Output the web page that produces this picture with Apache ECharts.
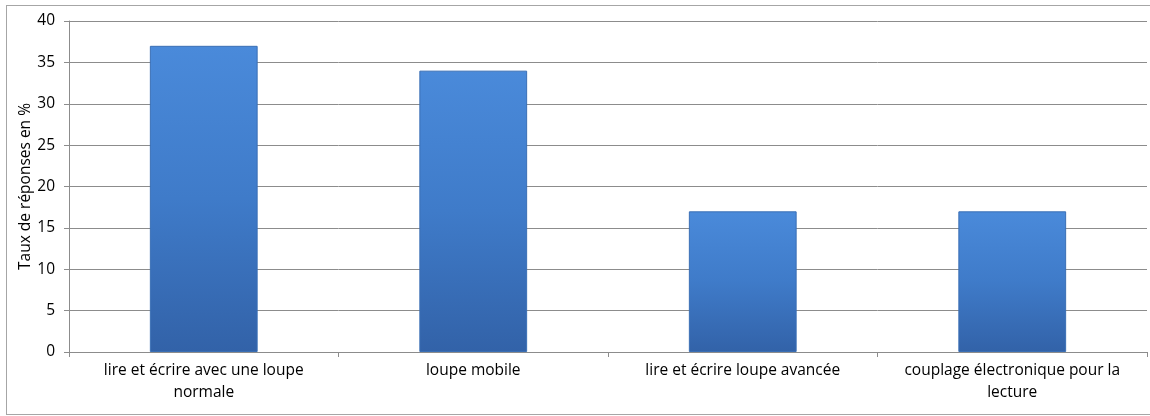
<!DOCTYPE html>
<html>
<head>
<meta charset="utf-8">
<script src="https://cdn.jsdelivr.net/npm/echarts@6/dist/echarts.min.js"></script>
<style>
html,body{margin:0;padding:0;background:#fff;}
#frame{position:absolute;left:6px;top:5px;width:1150px;height:410px;border:1px solid #a6a6a6;box-sizing:border-box;}
#chart{position:absolute;left:0;top:0;width:1150px;height:416px;}
</style>
</head>
<body>
<div id="frame"></div>
<div id="chart"></div>
<script>
const categories = [
  "lire et écrire avec une loupe\nnormale",
  "loupe mobile",
  "lire et écrire loupe avancée",
  "couplage électronique pour la\nlecture"
];
const values = [37, 34, 17, 17];
const yAxisName = "Taux de réponses en %";

const chart = echarts.init(document.getElementById('chart'), null, {renderer: 'canvas'});
const font = "Open Sans";
chart.setOption({
  animation: false,
  grid: {left: 69, right: 3, top: 21, bottom: 64},
  xAxis: {
    type: 'category',
    data: categories,
    axisLine: {lineStyle: {color: '#8c8c8c', width: 1}},
    axisTick: {show: true, length: 5, interval: 0, lineStyle: {color: '#8c8c8c'}},
    axisLabel: {color: '#000', fontSize: 15.5, fontFamily: font, lineHeight: 22, margin: 8, interval: 0, hideOverlap: false}
  },
  yAxis: {
    type: 'value',
    min: 0, max: 40, interval: 5,
    name: yAxisName,
    nameLocation: 'middle',
    nameGap: 35,
    nameMoveOverlap: false,
    nameTextStyle: {color: '#000', fontSize: 15.5, fontFamily: font},
    axisLine: {show: true, lineStyle: {color: '#8c8c8c'}},
    axisTick: {show: true, length: 5, lineStyle: {color: '#8c8c8c'}},
    axisLabel: {color: '#000', fontSize: 15.5, fontFamily: font, margin: 14},
    splitLine: {lineStyle: {color: '#8c8c8c', width: 1}}
  },
  series: [{
    type: 'bar',
    data: values,
    barWidth: '40%',
    itemStyle: {
      color: {
        type: 'linear', x: 0, y: 0, x2: 0, y2: 1,
        colorStops: [
          {offset: 0, color: '#4a8ada'},
          {offset: 0.5, color: '#3f7bc9'},
          {offset: 1, color: '#3262a8'}
        ]
      },
      borderColor: '#3a6fb5',
      borderWidth: 1
    }
  }]
});
</script>
</body>
</html>
